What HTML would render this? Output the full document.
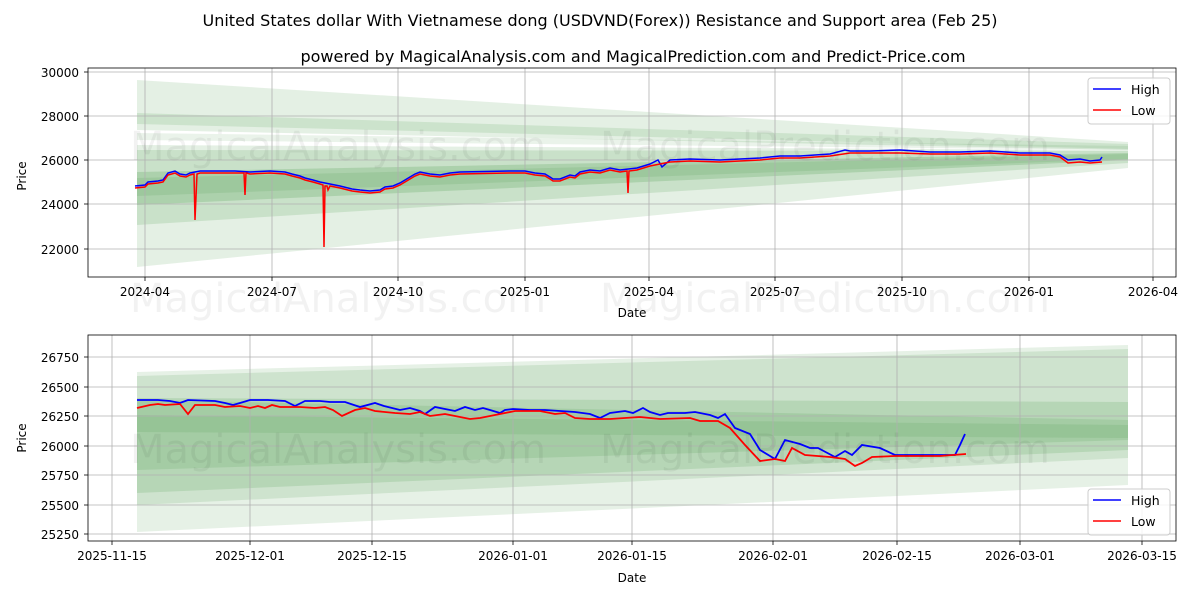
<!DOCTYPE html>
<html><head><meta charset="utf-8"><style>
body{margin:0;background:#fff}
svg{display:block;font-family:"DejaVu Sans","Liberation Sans",sans-serif}
</style></head><body>
<svg width="1200" height="600" viewBox="0 0 1200 600" xmlns="http://www.w3.org/2000/svg">
<rect width="1200" height="600" fill="#fff"/>
<text x="600" y="26" font-size="16" text-anchor="middle">United States dollar With Vietnamese dong (USDVND(Forex)) Resistance and Support area (Feb 25)</text>
<text x="633" y="62" font-size="16" text-anchor="middle">powered by MagicalAnalysis.com and MagicalPrediction.com and Predict-Price.com</text>

<!-- TOP CHART -->
<g>
<clipPath id="c1"><rect x="88" y="68" width="1088" height="209"/></clipPath>
<g clip-path="url(#c1)">
<g fill="#2e8b2e">
<polygon points="137,80 1128,142 1128,150 137,130" fill-opacity="0.13"/>
<polygon points="137,113 1128,144 1128,149 137,124" fill-opacity="0.13"/>
<polygon points="137,133 1128,146 1128,150 137,140" fill-opacity="0.1"/>
<polygon points="137,145 1128,150 1128,168 137,267" fill-opacity="0.13"/>
<polygon points="137,150 1128,151 1128,163 137,225" fill-opacity="0.15"/>
<polygon points="137,172 1128,153 1128,160 137,205" fill-opacity="0.18"/>
<polygon points="137,178 1128,154 1128,159 137,196" fill-opacity="0.12"/>
</g>
<g stroke="#b0b0b0" stroke-width="0.8">
<line x1="145" y1="68" x2="145" y2="277"/><line x1="272" y1="68" x2="272" y2="277"/><line x1="398" y1="68" x2="398" y2="277"/><line x1="525" y1="68" x2="525" y2="277"/><line x1="649" y1="68" x2="649" y2="277"/><line x1="775" y1="68" x2="775" y2="277"/><line x1="902" y1="68" x2="902" y2="277"/><line x1="1029" y1="68" x2="1029" y2="277"/><line x1="1153" y1="68" x2="1153" y2="277"/>
<line x1="88" y1="72" x2="1176" y2="72"/><line x1="88" y1="116" x2="1176" y2="116"/><line x1="88" y1="160" x2="1176" y2="160"/><line x1="88" y1="204" x2="1176" y2="204"/><line x1="88" y1="249" x2="1176" y2="249"/>
</g>
<polyline fill="none" stroke="#0000ff" stroke-width="1.5" points="135,186 145,185 148,182 158,181 163,180 168,173 175,171 180,174 186,175 190,173 200,171 235,171 250,172 270,171 285,172 292,174 300,176 305,178 313,180 320,182 330,184 340,186 352,189 360,190 370,191 380,190 385,187 393,186 400,183 405,180 410,177 415,174 420,172 430,174 440,175 450,173 460,172 510,171 525,171 530,172 535,173 545,174 550,177 553,179 560,179 570,175 575,176 580,172 590,170 600,171 610,168 620,170 637,168 650,164 658,160 662,167 670,160 690,159 720,160 760,158 780,156 800,156 830,154 845,150 850,151 870,151 900,150 930,152 960,152 990,151 1020,153 1050,153 1060,155 1068,160 1080,159 1090,161 1100,160 1102,157"/>
<polyline fill="none" stroke="#ff0000" stroke-width="1.5" points="135,188 145,187 148,184 158,183 163,182 168,175 175,173 180,176 186,177 190,175 194,174 195,220 197,174 200,173 235,173 244,173 245,195 246,173 250,174 270,173 285,174 292,176 300,178 305,180 313,182 320,184 323,185 324,247 325,186 327,186 328,190 330,186 340,188 352,191 360,192 370,193 380,192 385,189 393,188 400,185 405,182 410,179 415,176 420,174 430,176 440,177 450,175 460,174 510,173 525,173 530,174 535,175 545,176 550,179 553,181 560,181 570,177 575,178 580,174 590,172 600,173 610,170 620,172 627,171 628,193 629,171 637,170 650,166 660,164 670,162 690,161 720,162 760,160 780,158 800,158 830,156 850,153 870,153 900,153 930,154 960,154 990,153 1020,155 1050,155 1060,157 1068,163 1080,162 1090,163 1102,162"/>
</g>
<text x="130" y="160" font-size="40" fill="#000" fill-opacity="0.05">MagicalAnalysis.com</text>
<text x="600" y="160" font-size="40" fill="#000" fill-opacity="0.05">MagicalPrediction.com</text>
<text x="130" y="312" font-size="40" fill="#000" fill-opacity="0.05">MagicalAnalysis.com</text>
<text x="600" y="312" font-size="40" fill="#000" fill-opacity="0.05">MagicalPrediction.com</text>
<rect x="88" y="68" width="1088" height="209" fill="none" stroke="#000" stroke-width="0.8"/>
<g font-size="12" text-anchor="end">
<text x="79" y="77">30000</text><text x="79" y="121">28000</text><text x="79" y="165">26000</text><text x="79" y="209">24000</text><text x="79" y="254">22000</text>
</g>
<g stroke="#000" stroke-width="0.8">
<line x1="84" y1="72" x2="88" y2="72"/><line x1="84" y1="116" x2="88" y2="116"/><line x1="84" y1="160" x2="88" y2="160"/><line x1="84" y1="204" x2="88" y2="204"/><line x1="84" y1="249" x2="88" y2="249"/>
<line x1="145" y1="277" x2="145" y2="281"/><line x1="272" y1="277" x2="272" y2="281"/><line x1="398" y1="277" x2="398" y2="281"/><line x1="525" y1="277" x2="525" y2="281"/><line x1="649" y1="277" x2="649" y2="281"/><line x1="775" y1="277" x2="775" y2="281"/><line x1="902" y1="277" x2="902" y2="281"/><line x1="1029" y1="277" x2="1029" y2="281"/><line x1="1153" y1="277" x2="1153" y2="281"/>
</g>
<g font-size="12" text-anchor="middle">
<text x="145" y="296">2024-04</text><text x="272" y="296">2024-07</text><text x="398" y="296">2024-10</text><text x="525" y="296">2025-01</text><text x="649" y="296">2025-04</text><text x="775" y="296">2025-07</text><text x="902" y="296">2025-10</text><text x="1029" y="296">2026-01</text><text x="1153" y="296">2026-04</text>
<text x="632" y="317">Date</text>
<text x="26" y="176" transform="rotate(-90 26 176)">Price</text>
</g>
<rect x="1088" y="78" width="82" height="46" rx="3" fill="#fff" fill-opacity="0.85" stroke="#ccc"/>
<line x1="1093" y1="89" x2="1121" y2="89" stroke="#0000ff" stroke-width="1.5"/>
<line x1="1093" y1="110" x2="1121" y2="110" stroke="#ff0000" stroke-width="1.5"/>
<text x="1131" y="94" font-size="12.5">High</text><text x="1131" y="115" font-size="12.5">Low</text>
</g>

<!-- BOTTOM CHART -->
<g>
<clipPath id="c2"><rect x="88" y="335" width="1088" height="206"/></clipPath>
<g clip-path="url(#c2)">
<g fill="#2e8b2e">
<polygon points="137,372 1128,345 1128,485 137,532" fill-opacity="0.12"/>
<polygon points="137,376 1128,349 1128,458 137,505" fill-opacity="0.13"/>
<polygon points="137,398 1128,402 1128,450 137,493" fill-opacity="0.15"/>
<polygon points="137,400 1128,420 1128,440 137,470" fill-opacity="0.13"/>
<polygon points="137,415 1128,425 1128,438 137,432" fill-opacity="0.12"/>
</g>
<g stroke="#b0b0b0" stroke-width="0.8">
<line x1="112" y1="335" x2="112" y2="541"/><line x1="250" y1="335" x2="250" y2="541"/><line x1="372" y1="335" x2="372" y2="541"/><line x1="513" y1="335" x2="513" y2="541"/><line x1="632" y1="335" x2="632" y2="541"/><line x1="773" y1="335" x2="773" y2="541"/><line x1="897" y1="335" x2="897" y2="541"/><line x1="1020" y1="335" x2="1020" y2="541"/><line x1="1142" y1="335" x2="1142" y2="541"/>
<line x1="88" y1="357" x2="1176" y2="357"/><line x1="88" y1="387" x2="1176" y2="387"/><line x1="88" y1="416" x2="1176" y2="416"/><line x1="88" y1="446" x2="1176" y2="446"/><line x1="88" y1="475" x2="1176" y2="475"/><line x1="88" y1="505" x2="1176" y2="505"/><line x1="88" y1="534" x2="1176" y2="534"/>
</g>
<polyline fill="none" stroke="#0000ff" stroke-width="1.8" points="137,400 158,400 170,401 180,403 188,400 215,401 225,403 233,405 240,403 250,400 268,400 285,401 295,406 305,401 320,401 330,402 345,402 360,407 375,403 384,406 400,410 410,408 420,411 425,414 435,407 445,409 455,411 465,407 475,410 483,408 490,410 500,413 505,410 513,409 530,410 545,410 560,411 575,412 590,414 600,418 610,413 625,411 633,413 643,408 650,412 660,415 668,413 685,413 695,412 710,415 718,418 725,414 735,428 750,434 760,450 775,459 785,440 800,444 810,448 818,448 835,457 845,451 852,455 862,445 880,448 895,455 920,455 955,455 960,445 965,434"/>
<polyline fill="none" stroke="#ff0000" stroke-width="1.8" points="137,408 150,405 158,404 165,405 180,404 188,414 195,405 215,405 225,407 240,406 250,408 258,406 265,408 272,405 280,407 300,407 315,408 325,407 333,410 342,416 355,410 365,408 375,411 395,413 410,414 420,412 430,416 445,414 455,416 470,419 480,418 490,416 500,414 515,411 540,411 555,414 565,413 575,418 590,419 610,419 640,417 660,419 690,418 700,421 718,421 730,428 745,445 760,461 775,459 785,461 792,448 805,455 830,457 845,459 855,466 862,463 872,457 895,456 940,456 966,454"/>
</g>
<text x="130" y="463" font-size="40" fill="#000" fill-opacity="0.05">MagicalAnalysis.com</text>
<text x="600" y="463" font-size="40" fill="#000" fill-opacity="0.05">MagicalPrediction.com</text>
<rect x="88" y="335" width="1088" height="206" fill="none" stroke="#000" stroke-width="0.8"/>
<g font-size="12" text-anchor="end">
<text x="79" y="362">26750</text><text x="79" y="392">26500</text><text x="79" y="421">26250</text><text x="79" y="451">26000</text><text x="79" y="480">25750</text><text x="79" y="510">25500</text><text x="79" y="539">25250</text>
</g>
<g stroke="#000" stroke-width="0.8">
<line x1="84" y1="357" x2="88" y2="357"/><line x1="84" y1="387" x2="88" y2="387"/><line x1="84" y1="416" x2="88" y2="416"/><line x1="84" y1="446" x2="88" y2="446"/><line x1="84" y1="475" x2="88" y2="475"/><line x1="84" y1="505" x2="88" y2="505"/><line x1="84" y1="534" x2="88" y2="534"/>
<line x1="112" y1="541" x2="112" y2="545"/><line x1="250" y1="541" x2="250" y2="545"/><line x1="372" y1="541" x2="372" y2="545"/><line x1="513" y1="541" x2="513" y2="545"/><line x1="632" y1="541" x2="632" y2="545"/><line x1="773" y1="541" x2="773" y2="545"/><line x1="897" y1="541" x2="897" y2="545"/><line x1="1020" y1="541" x2="1020" y2="545"/><line x1="1142" y1="541" x2="1142" y2="545"/>
</g>
<g font-size="12" text-anchor="middle">
<text x="112" y="560">2025-11-15</text><text x="250" y="560">2025-12-01</text><text x="372" y="560">2025-12-15</text><text x="513" y="560">2026-01-01</text><text x="632" y="560">2026-01-15</text><text x="773" y="560">2026-02-01</text><text x="897" y="560">2026-02-15</text><text x="1020" y="560">2026-03-01</text><text x="1142" y="560">2026-03-15</text>
<text x="632" y="582">Date</text>
<text x="26" y="438" transform="rotate(-90 26 438)">Price</text>
</g>
<rect x="1088" y="489" width="82" height="46" rx="3" fill="#fff" fill-opacity="0.85" stroke="#ccc"/>
<line x1="1093" y1="500" x2="1121" y2="500" stroke="#0000ff" stroke-width="1.5"/>
<line x1="1093" y1="521" x2="1121" y2="521" stroke="#ff0000" stroke-width="1.5"/>
<text x="1131" y="505" font-size="12.5">High</text><text x="1131" y="526" font-size="12.5">Low</text>
</g>
</svg>
</body></html>
